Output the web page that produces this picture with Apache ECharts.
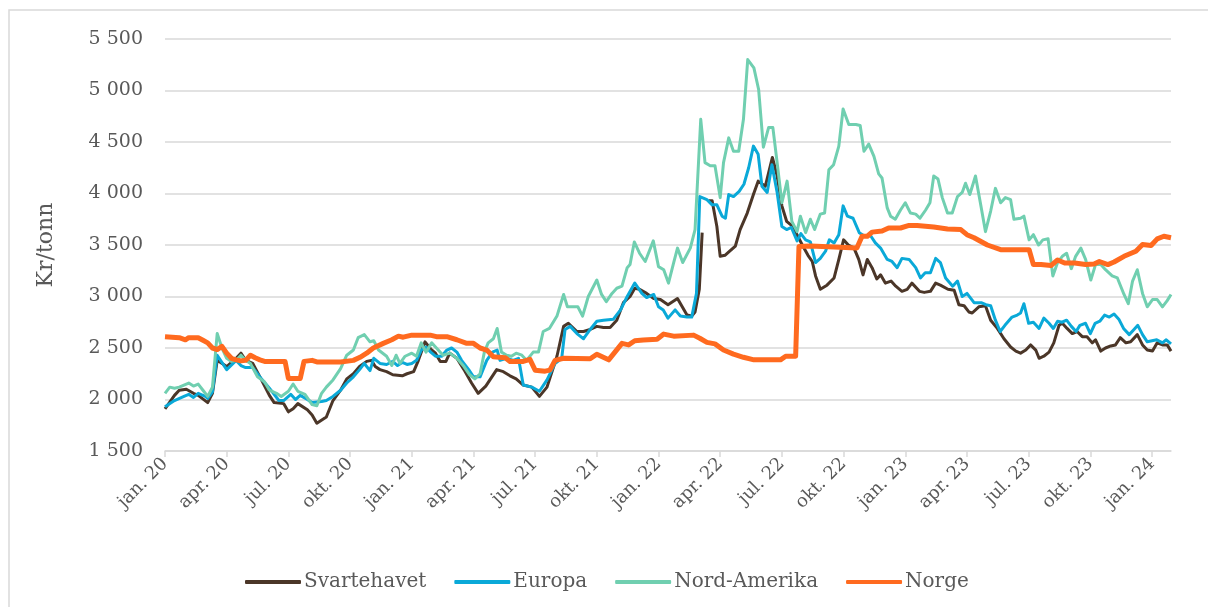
<!DOCTYPE html>
<html>
<head>
<meta charset="utf-8">
<script src="https://cdn.jsdelivr.net/npm/echarts@6/dist/echarts.min.js"></script>
<style>
  html, body { margin: 0; padding: 0; background: #fff; }
  #main { width: 1208px; height: 607px; }
</style>
</head>
<body>
<div id="main"></div>
<script>
// x = uker fra jan. 2020, y = kr/tonn
var tickLabels = ['jan. 20', 'apr. 20', 'jul. 20', 'okt. 20', 'jan. 21', 'apr. 21', 'jul. 21', 'okt. 21',
    'jan. 22', 'apr. 22', 'jul. 22', 'okt. 22', 'jan. 23', 'apr. 23', 'jul. 23', 'okt. 23', 'jan. 24'];

var svartehavet = [[0,1910],[2,2040],[3,2090],[4.5,2100],[6,2060],[7,2040],[9,1970],[10,2060],[11,2380],[13,2320],
    [15,2400],[16,2450],[17,2380],[18.5,2350],[20,2220],[22,2040],[23,1970],[25,1960],[26,1880],[27,1910],[28,1960],
    [30,1900],[31,1850],[32,1770],[34,1830],[35.4,1990],[37,2090],[38.3,2200],[39.7,2250],[41,2320],[42.5,2370],
    [43.5,2380],[44.3,2320],[45.3,2290],[46.7,2270],[48,2240],[50,2230],[51,2250],[52.4,2270],[53.4,2380],[54.8,2560],
    [56,2490],[57,2450],[58,2370],[59.2,2370],[60,2450],[61.5,2400],[63,2290],[64.6,2160],[66,2060],[67.6,2130],
    [69.9,2290],[71.3,2270],[72.7,2230],[74,2200],[75.5,2140],[77.3,2120],[78.9,2030],[80.5,2120],[82.6,2420],
    [84,2710],[85,2740],[86.8,2660],[88.2,2660],[89.6,2680],[91,2710],[92.4,2700],[93.8,2700],[95.2,2770],[96.6,2940],
    [98,3000],[99,3080],[100,3070],[101.5,3030],[103,2980],[104.4,2970],[106,2920],[108,2980],[109,2900],[110,2820],
    [111,2810],[111.7,2850],[112.6,3070],[113.2,3620],[113.9,null],[114.6,3930],[115.3,3930],[116.3,3680],[117,3390],
    [118,3400],[119,3440],[120.2,3490],[121.2,3650],[122.7,3810],[124,3990],[125,4120],[126.5,4070],[128,4350],
    [129,4170],[130,3880],[131,3730],[132.3,3680],[133.3,3590],[134.3,3500],[135.5,3400],[136.4,3340],[137.1,3200],
    [138.1,3070],[139.5,3110],[141,3180],[142,3360],[143,3550],[144,3500],[145.2,3470],[146.2,3360],[147.1,3210],
    [148,3360],[149,3280],[150,3170],[150.8,3210],[151.8,3130],[153,3150],[154,3100],[155.3,3050],[156.4,3070],
    [157.4,3130],[159,3050],[160,3040],[161.3,3050],[162.4,3130],[163.4,3110],[165,3070],[166.3,3060],[167.3,2920],
    [168.4,2910],[169.4,2850],[170.1,2840],[171.5,2900],[172.9,2910],[174,2770],[175.4,2690],[176.8,2590],[178.2,2510],
    [179.3,2470],[180.3,2450],[181.4,2480],[182.4,2530],[183.5,2480],[184.2,2400],[185.2,2420],[186.3,2460],
    [187.3,2550],[188.4,2720],[189.1,2740],[190.1,2690],[191.2,2640],[192.2,2660],[193.3,2610],[194.3,2610],
    [195.4,2550],[196.1,2580],[197.2,2470],[198.2,2500],[199.3,2520],[200.3,2530],[201.3,2600],[202.5,2550],
    [203.5,2560],[204.9,2630],[206,2530],[207,2480],[208.1,2470],[209.1,2550],[210.2,2530],[211.2,2530],[212,2470]];

var europa = [[0,1930],[2,1990],[4,2030],[5,2050],[6,2020],[7,2060],[8.5,2030],[9,2010],[10,2075],[11,2430],[13,2290],
    [15,2380],[16,2330],[17,2310],[18.5,2310],[20,2220],[22,2110],[24,1990],[25,1990],[26.5,2050],[27.5,2000],
    [28.5,2040],[30,2000],[31,1970],[33,1980],[34,1990],[35.4,2030],[37,2090],[38.3,2160],[39.7,2220],[41,2290],
    [42,2350],[43.2,2280],[44,2400],[45.3,2350],[46.7,2340],[48,2370],[49,2330],[50,2360],[51,2340],[52,2350],
    [53,2380],[54,2480],[55,2510],[56,2460],[57,2420],[58.3,2420],[59.4,2480],[60.4,2500],[61.5,2460],[62.5,2380],
    [64,2290],[65,2220],[66.4,2220],[67.8,2380],[69,2460],[70,2480],[70.6,2380],[72,2400],[73.4,2380],[74.5,2400],
    [75.5,2140],[77.3,2120],[78.9,2080],[80.5,2190],[82.2,2350],[83.6,2400],[84.3,2680],[85.4,2710],[86.8,2640],
    [88.2,2590],[89.6,2680],[91,2760],[92.4,2770],[94.5,2780],[96,2870],[97.4,3000],[99,3130],[100.5,3030],
    [101.5,2990],[103,3020],[104,2900],[105,2870],[106,2790],[107.5,2870],[108.6,2810],[110,2800],[111,2800],
    [112,3030],[112.7,3970],[114.2,3940],[115.3,3890],[116.3,3890],[117.4,3780],[118.1,3760],[118.8,3990],
    [119.8,3970],[121,4020],[122,4090],[123,4250],[124,4460],[125,4380],[125.8,4070],[126.9,4010],[127.9,4280],
    [129,4010],[130,3680],[131,3650],[132,3670],[133.2,3540],[134,3610],[135,3550],[136,3530],[137.1,3330],
    [138.1,3370],[139.2,3440],[140,3550],[141,3520],[142,3600],[142.9,3880],[143.8,3780],[145,3760],[146.3,3620],
    [147.3,3590],[148.7,3590],[149.7,3520],[150.8,3470],[152.2,3360],[153.2,3340],[154.3,3280],[155.3,3370],
    [156.8,3360],[158.2,3280],[159.2,3180],[160.2,3230],[161.3,3230],[162.4,3370],[163.4,3330],[164.5,3180],
    [166,3100],[167,3150],[168,3000],[169,3030],[170.5,2940],[172,2940],[173,2920],[174,2910],[175,2770],[176,2660],
    [177,2720],[178.5,2800],[179.6,2820],[180.3,2840],[181,2930],[182,2740],[183,2750],[184.2,2690],[185.2,2790],
    [186.3,2740],[187.2,2690],[188.1,2760],[189,2750],[190,2770],[191,2710],[192,2660],[192.8,2720],[194,2740],
    [195,2640],[196,2740],[197,2760],[198,2820],[199,2800],[200,2830],[201,2780],[202,2690],[203.2,2630],[204.2,2680],
    [205,2720],[206,2630],[207,2560],[208,2570],[209,2580],[210.2,2550],[211,2580],[212,2540]];

var nordAmerika = [[0,2060],[1,2120],[2,2110],[3,2120],[5,2160],[6,2130],[7,2150],[8,2090],[9,2030],[10,2120],
    [11,2640],[12,2500],[13,2400],[14,2370],[15,2380],[16,2430],[17,2380],[18,2350],[19.5,2220],[21,2170],[22,2090],
    [23.5,2060],[24.5,2030],[26,2080],[27,2150],[28,2080],[29.5,2050],[31,1950],[32,1940],[33,2060],[34,2120],
    [35.4,2190],[37,2300],[38.3,2430],[39.7,2480],[40.7,2600],[42,2630],[43.2,2560],[44,2570],[45,2480],[46.7,2420],
    [47.8,2330],[48.7,2430],[49.5,2350],[50.6,2420],[52,2450],[53,2420],[54,2550],[55,2460],[56.2,2550],[57.2,2500],
    [58.6,2430],[60,2450],[61.5,2400],[63,2320],[64.2,2240],[65.3,2200],[66.4,2250],[67.3,2460],[68.1,2550],
    [69.2,2590],[70,2690],[70.9,2460],[72,2430],[73,2420],[74,2450],[75.2,2430],[76.2,2380],[77.6,2460],[78.7,2460],
    [79.7,2660],[81,2690],[82.6,2810],[84,3020],[84.8,2900],[86,2900],[87,2900],[88,2810],[89.2,3000],[91,3160],
    [92,3020],[93,2950],[94.2,3030],[95.2,3080],[96.3,3100],[97.4,3280],[98,3310],[98.9,3530],[100,3420],[101.2,3340],
    [102.9,3540],[104,3290],[105.1,3260],[106.1,3130],[107.2,3330],[108,3470],[109.1,3330],[110.7,3470],[111.7,3650],
    [112.9,4720],[113.8,4300],[114.9,4270],[115.9,4270],[117,3960],[117.7,4300],[118.8,4540],[119.8,4410],[120.9,4410],
    [121.9,4720],[122.8,5300],[124.1,5220],[125.1,5010],[126.1,4450],[127.2,4640],[128.1,4640],[129,4300],[130,3910],
    [131.1,4120],[132.1,3730],[133.2,3630],[133.9,3780],[135,3620],[136,3750],[136.9,3650],[138.1,3800],[139,3810],
    [139.9,4230],[140.9,4280],[142,4460],[142.9,4820],[144.1,4670],[145.6,4670],[146.5,4660],[147.3,4410],[148.3,4480],
    [149.4,4360],[150.4,4190],[151.1,4150],[152.2,3860],[152.9,3780],[153.9,3750],[155,3840],[156,3910],[157.1,3810],
    [158.2,3800],[159.1,3760],[160.3,3840],[161.2,3910],[162,4170],[162.9,4140],[163.8,3960],[164.9,3810],[165.9,3810],
    [167,3970],[168,4010],[168.7,4100],[169.6,3990],[170.8,4170],[171.9,3890],[172.9,3630],[174,3830],[175,4050],
    [176.1,3910],[177.1,3960],[178.2,3940],[178.9,3750],[180.3,3760],[181,3780],[182.1,3550],[183,3600],[184.1,3500],
    [185,3550],[186.1,3560],[187.1,3200],[188.1,3330],[189.1,3390],[190,3420],[191,3270],[191.9,3390],[193,3470],
    [194,3360],[195.1,3160],[196.1,3310],[197.2,3310],[198.2,3260],[199.6,3200],[200.7,3180],[202.1,3020],[203,2930],
    [203.9,3150],[204.9,3260],[206,3030],[207,2900],[208.1,2970],[209.1,2970],[210.2,2900],[211.2,2960],[212,3020]];

var norge = [[0,2610],[3,2600],[4.3,2580],[5,2600],[7,2600],[8,2575],[9,2550],[10,2500],[11,2485],[12,2515],[13,2450],
    [14,2400],[15,2385],[16,2375],[17,2380],[18,2430],[19,2405],[20,2385],[21,2370],[25.3,2370],[26,2205],[28.5,2205],
    [29.3,2370],[31,2380],[32,2365],[37,2365],[39.7,2380],[41.1,2410],[42.5,2450],[43.9,2500],[46,2545],[47.8,2580],
    [49.2,2615],[50.2,2605],[52,2625],[55.9,2625],[57.2,2610],[59.4,2610],[61.5,2580],[63.6,2545],[65,2545],
    [66.4,2500],[67.8,2480],[69.2,2415],[71.7,2405],[72.7,2370],[75.5,2370],[76.9,2390],[78,2285],[80.1,2275],
    [81.1,2285],[82.2,2380],[84,2400],[89.6,2395],[91,2440],[93.5,2385],[94.9,2465],[96.3,2545],[97.7,2530],[99,2570],
    [100.8,2578],[103.7,2585],[105.1,2635],[107.2,2615],[111.4,2625],[112.7,2595],[114.2,2555],[115.9,2540],
    [117.7,2480],[119.8,2440],[121.9,2410],[124.1,2385],[129.7,2385],[130.8,2420],[132.9,2420],[133.6,3485],[136,3490],
    [141,3480],[145.8,3470],[146.9,3585],[148,3585],[149,3625],[151.1,3635],[152.5,3665],[155,3665],[156.8,3690],
    [158.5,3690],[162,3675],[164.9,3655],[167.7,3650],[169,3600],[170.5,3570],[173.3,3500],[176.1,3455],[182.1,3455],
    [183,3310],[184.6,3310],[186.7,3300],[188.1,3355],[189.6,3325],[191.7,3325],[194,3310],[195.8,3315],[196.9,3340],
    [198.7,3310],[200,3335],[202.1,3390],[204.6,3440],[206,3505],[207.8,3495],[209.1,3560],[210.5,3585],[212,3570]];

var quarterWeeks = tickLabels.map(function (l, i) { return i * 13; });

var font = 'DejaVu Serif';
var grey = '#595959';

var myChart = echarts.init(document.getElementById('main'));

function line(name, data, color, width) {
    return {
        name: name,
        type: 'line',
        data: data,
        showSymbol: false,
        symbol: 'none',
        connectNulls: false,
        lineStyle: { color: color, width: width, join: 'round' },
        itemStyle: { color: color }
    };
}

myChart.setOption({
    animation: false,
    backgroundColor: '#fff',
    graphic: [{
        type: 'rect',
        shape: { x: 9, y: 10, width: 1300, height: 700 },
        style: { fill: 'none', stroke: '#d9d9d9', lineWidth: 1.5 },
        silent: true
    }],
    grid: { left: 165, right: 37, top: 39, bottom: 156 },
    legend: {
        left: 240,
        top: 567,
        icon: 'roundRect',
        itemWidth: 56,
        itemHeight: 4,
        itemGap: 28,
        textStyle: { fontFamily: font, fontSize: 20, color: grey, padding: [0, 0, 0, -2] },
        data: ['Svartehavet', 'Europa', 'Nord-Amerika', 'Norge']
    },
    xAxis: {
        type: 'value',
        min: 0,
        max: 212,
        interval: 13,
        splitLine: { show: false },
        axisLine: { lineStyle: { color: '#d9d9d9', width: 1.5 } },
        axisTick: { show: true, length: 6, customValues: quarterWeeks, lineStyle: { color: '#d9d9d9', width: 1.5 } },
        axisLabel: {
            customValues: quarterWeeks,
            rotate: 45,
            margin: 10,
            fontFamily: font,
            fontSize: 18,
            color: grey,
            formatter: function (v) { return tickLabels[Math.round(v / 13)] || ''; }
        }
    },
    yAxis: {
        type: 'value',
        min: 1500,
        max: 5500,
        interval: 500,
        name: 'Kr/tonn',
        nameLocation: 'middle',
        nameGap: 108,
        nameTextStyle: { fontFamily: font, fontSize: 22, color: grey },
        axisLine: { show: false },
        axisTick: { show: false },
        splitLine: { lineStyle: { color: '#d9d9d9', width: 1.5 } },
        axisLabel: {
            margin: 22,
            fontFamily: font,
            fontSize: 19,
            color: grey,
            formatter: function (v) { return String(v).replace(/\B(?=(\d{3})+(?!\d))/g, ' '); }
        }
    },
    series: [
        line('Svartehavet', svartehavet, '#4b3628', 3),
        line('Europa', europa, '#0aa9d8', 3),
        line('Nord-Amerika', nordAmerika, '#70cfb0', 3),
        line('Norge', norge, '#ff6a1f', 5)
    ]
});
</script>
</body>
</html>
